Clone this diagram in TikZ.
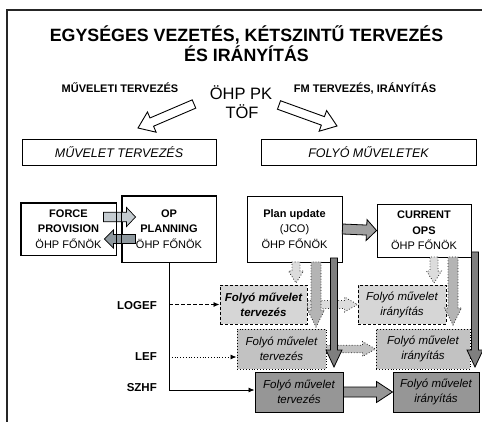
\documentclass[tikz,border=0pt]{standalone}
\usepackage{fontspec}
\setmainfont{Liberation Sans}
\usetikzlibrary{calc,arrows.meta}
\definecolor{cA}{HTML}{D6D6D6}
\definecolor{cB}{HTML}{C2C2C2}
\definecolor{cC}{HTML}{969696}
\definecolor{aA}{HTML}{DCDCDC}
\definecolor{aB}{HTML}{B4B4B4}
\definecolor{aC}{HTML}{7F7F7F}
\definecolor{aD}{HTML}{A0A0A0}
\definecolor{bL}{HTML}{C4CBD0}
\definecolor{bD}{HTML}{8E989E}
\newcommand\barrow[6]{%
  \path let \p1=(#2), \p2=(#3) in \pgfextra{%
    \pgfmathsetmacro\tmpang{atan2(\y2-\y1,\x2-\x1)}\global\let\bAang\tmpang
    \pgfmathsetmacro\tmplen{veclen(\x2-\x1,\y2-\y1)}\global\let\bAlen\tmplen
    \xdef\bAx{\x1}\xdef\bAy{\y1}};
  \begin{scope}[shift={(\bAx,\bAy)},rotate=\bAang]
    \path[#1] (0,-#4) -- ({\bAlen-#6},-#4) -- ({\bAlen-#6},-#5) -- (\bAlen,0)
      -- ({\bAlen-#6},#5) -- ({\bAlen-#6},#4) -- (0,#4) -- cycle;
  \end{scope}}
\tikzset{
  bx/.style={draw, line width=0.9pt, fill=white, align=center, inner sep=0pt,
    font=\fontsize{11}{15.5}\selectfont},
  itbx/.style={bx, font=\fontsize{11.5}{15}\selectfont\itshape},
  rowA/.style={itbx, fill=cA, dash pattern=on 3pt off 2pt, line width=1pt},
  rowB/.style={itbx, fill=cB, dotted, line width=1pt},
  rowC/.style={itbx, fill=cC, line width=1pt},
  titlef/.style={font=\fontsize{17.8}{20}\selectfont\bfseries, inner sep=0pt},
  lab/.style={font=\fontsize{11}{12}\selectfont\bfseries, inner sep=0pt},
  big/.style={font=\fontsize{16.5}{18}\selectfont, inner sep=0pt},
  side/.style={font=\fontsize{11.5}{13}\selectfont\bfseries, inner sep=0pt},
  hollow/.style={fill=white, draw=black, line width=0.9pt},
  shA/.style={fill=aA, draw=black!85, dotted, line width=0.8pt},
  lgA/.style={fill=aB, draw=black!85, dotted, line width=0.8pt},
  dkA/.style={fill=aC, draw=black, line width=0.8pt},
  mdA/.style={fill=aD, draw=black, line width=0.8pt},
  rowBA/.style={fill=cB, draw=black!85, dotted, line width=0.8pt},
  rowCA/.style={fill=cC, draw=black, line width=0.8pt},
  blL/.style={fill=bL, draw=black, line width=0.7pt},
  blD/.style={fill=bD, draw=black, line width=0.7pt},
  conn/.style={line width=0.8pt, -{Latex[length=6pt,width=5pt]}},
}
\begin{document}
\begin{tikzpicture}[x=1pt,y=-1pt]
\useasboundingbox (0,0) rectangle (482,422);
% frame
\draw[line width=1.3pt, black!85] (7,422) -- (7,10) -- (482,10);
% titles
\node[titlef, anchor=base] (t1) at (246.5,41.5) {EGYSÉGES VEZETÉS, KÉTSZINTŰ TERVEZÉS};
\node[titlef, anchor=base] (t2) at (246.5,61.5) {ÉS IRÁNYÍTÁS};
\node[lab, anchor=base] (ml) at (120,93) {MŰVELETI TERVEZÉS};
\node[lab, anchor=base] (fl) at (365,93) {FM TERVEZÉS, IRÁNYÍTÁS};
\node[big, anchor=base] (ohp) at (241,100) {ÖHP PK};
\node[big, anchor=base] (tof) at (242,118.7) {TÖF};
% hollow arrows
\coordinate (la1) at (194,104);
\coordinate (la2) at (138,128);
\coordinate (ra1) at (279,105);
\coordinate (ra2) at (337,126);
\barrow{hollow}{la1}{la2}{4.5}{11}{15}
\barrow{hollow}{ra1}{ra2}{4.5}{11}{15}
% section boxes
\node[bx, font=\fontsize{12.5}{14}\selectfont\itshape, minimum width=194pt, minimum height=26pt] (mt) at (119,152) {MŰVELET TERVEZÉS};
\node[bx, font=\fontsize{12.5}{14}\selectfont\itshape, minimum width=215pt, minimum height=26pt] (fm) at (368.5,152) {FOLYÓ MŰVELETEK};
% main boxes
\node[bx, minimum width=95pt, minimum height=52pt] (fp) at (68.5,229) {\textbf{FORCE}\\\textbf{PROVISION}\\ÖHP FŐNÖK};
\node[bx, minimum width=94pt, minimum height=66pt] (op) at (169,229) {\textbf{OP}\\\textbf{PLANNING}\\ÖHP FŐNÖK};
\node[bx, minimum width=95pt, minimum height=66pt] (pu) at (294.5,229) {\textbf{Plan update}\\(JCO)\\ÖHP FŐNÖK};
\node[bx, minimum width=94pt, minimum height=53pt] (co) at (424,230.5) {\textbf{CURRENT}\\\textbf{OPS}\\ÖHP FŐNÖK};
% row boxes
\node[rowA, font=\fontsize{11.5}{15}\selectfont\bfseries\itshape, minimum width=87pt, minimum height=39pt] (r1a) at (263.5,304.5) {Folyó művelet\\tervezés};
\node[rowA, minimum width=88pt, minimum height=39pt] (r1b) at (402,304.5) {Folyó művelet\\irányítás};
\node[rowB, minimum width=89pt, minimum height=40pt] (r2a) at (281.5,349) {Folyó művelet\\tervezés};
\node[rowB, minimum width=94pt, minimum height=40pt] (r2b) at (423,349) {Folyó művelet\\irányítás};
\node[rowC, minimum width=88pt, minimum height=40pt] (r3a) at (299,392) {Folyó művelet\\tervezés};
\node[rowC, minimum width=86pt, minimum height=40pt] (r3b) at (436,392) {Folyó művelet\\irányítás};
% side labels
\node[side, anchor=east] (logef) at (157,306) {LOGEF};
\node[side, anchor=east] (lef) at (157,357) {LEF};
\node[side, anchor=east] (szhf) at (157,388) {SZHF};
% connectors from OP PLANNING
\coordinate (lefin) at ([yshift=-8pt]r2a.west);
\coordinate (szin) at ([yshift=2pt]r3a.west);
\draw[conn] (op.south) |- (szin);
\draw[conn, dash pattern=on 3.5pt off 2.5pt] (op.south |- r1a.west) -- (r1a.west);
\draw[conn, dotted] (op.south |- lefin) -- (lefin);
% horizontal row arrows
\barrow{shA}{r1a.east}{r1b.west}{4}{7.5}{13}
\barrow{rowBA}{r2a.east}{r2b.west}{3.8}{7.5}{13}
\barrow{rowCA}{r3a.east}{r3b.west}{5}{10.5}{16}
% vertical arrows from Plan update
\coordinate (pu1) at (296,262);
\coordinate (pu1e) at (296,283);
\coordinate (pu2) at (316,262);
\coordinate (pu2e) at (316,327);
\coordinate (pu3) at (334,258);
\coordinate (pu3e) at (334,367);
\barrow{shA}{pu1}{pu1e}{4}{7.5}{12}
\barrow{lgA}{pu2}{pu2e}{5}{8.5}{17}
\barrow{dkA}{pu3}{pu3e}{3.5}{8}{17}
% vertical arrows from Current ops
\coordinate (co1) at (434,257);
\coordinate (co1e) at (434,283);
\coordinate (co2) at (453,257);
\coordinate (co2e) at (453,325);
\coordinate (co3) at (475,252);
\coordinate (co3e) at (475,367);
\barrow{shA}{co1}{co1e}{4}{7.5}{12}
\barrow{lgA}{co2}{co2e}{5}{8.5}{17}
\barrow{dkA}{co3}{co3e}{3.5}{8}{17}
% plan update -> current ops
\barrow{mdA}{pu.east}{co.west}{5}{10.5}{10}
% force provision <-> op planning
\coordinate (fpa1) at ($(fp.east)+(-13,-12)$);
\coordinate (fpa2) at ($(op.west)+(14,-12)$);
\coordinate (opa1) at ($(op.west)+(14,10)$);
\coordinate (opa2) at ($(fp.east)+(-12,10)$);
\barrow{blL}{fpa1}{fpa2}{4.8}{9.5}{9}
\barrow{blD}{opa1}{opa2}{4.5}{9}{9}
\draw[line width=0.9pt] (fp.south west) rectangle (fp.north east);
\draw[line width=0.9pt] (op.south west) rectangle (op.north east);
\end{tikzpicture}
\end{document}
